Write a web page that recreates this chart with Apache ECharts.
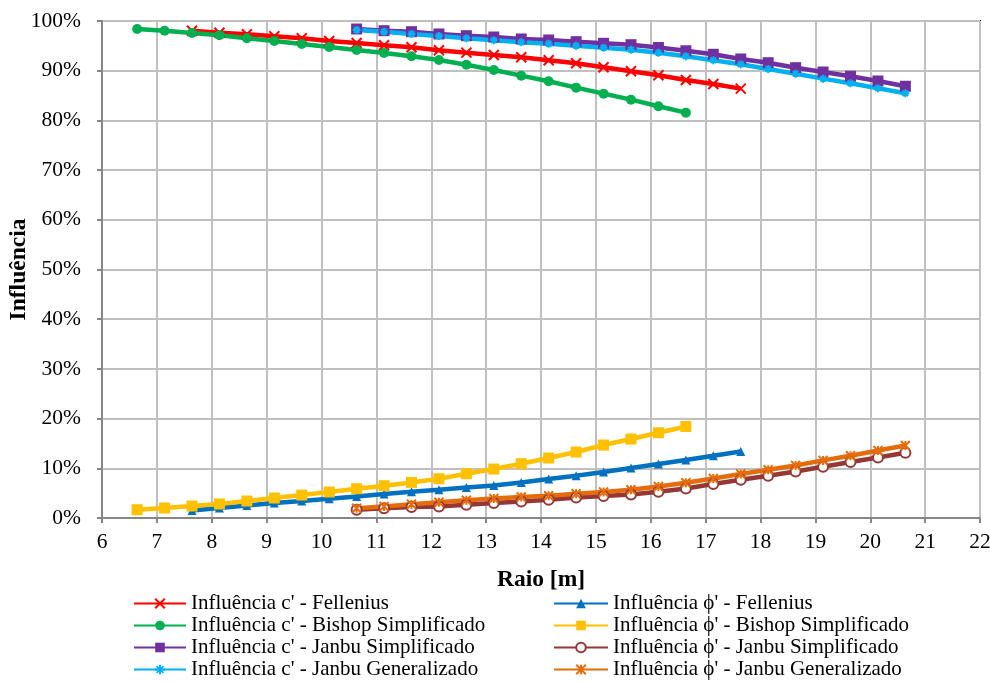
<!DOCTYPE html>
<html>
<head>
<meta charset="utf-8">
<script src="https://cdn.jsdelivr.net/npm/echarts@6/dist/echarts.min.js"></script>
<style>
  html, body { margin: 0; padding: 0; background: #fff; }
  #chart { width: 990px; height: 682px; }
</style>
</head>
<body>
<div id="chart"></div>
<script>
// raio [m] de cada familia de pontos
var raioA = [6.64, 7.14, 7.64, 8.14, 8.64, 9.14, 9.64, 10.14, 10.64, 11.14, 11.64, 12.14, 12.64, 13.14, 13.64, 14.14, 14.64, 15.14, 15.64, 16.14, 16.64];
var raioB = [7.64, 8.14, 8.64, 9.14, 9.64, 10.14, 10.64, 11.14, 11.64, 12.14, 12.64, 13.14, 13.64, 14.14, 14.64, 15.14, 15.64, 16.14, 16.64, 17.14, 17.64];
var raioC = [10.64, 11.14, 11.64, 12.14, 12.64, 13.14, 13.64, 14.14, 14.64, 15.14, 15.64, 16.14, 16.64, 17.14, 17.64, 18.14, 18.64, 19.14, 19.64, 20.14, 20.64];

// influencia [%]
var cFellenius = [98.05, 97.65, 97.33, 96.92, 96.52, 95.98, 95.58, 95.11, 94.71, 94.11, 93.63, 93.16, 92.70, 92.10, 91.49, 90.69, 89.88, 89.08, 88.14, 87.33, 86.39];
var phiFellenius = [1.53, 2.01, 2.53, 3.02, 3.42, 3.88, 4.34, 4.83, 5.29, 5.69, 6.15, 6.55, 7.16, 7.84, 8.51, 9.25, 10.05, 10.88, 11.66, 12.53, 13.39];
var cBishop = [98.39, 98.05, 97.59, 97.12, 96.52, 95.98, 95.38, 94.77, 94.17, 93.56, 92.90, 92.16, 91.21, 90.15, 89.00, 87.87, 86.59, 85.38, 84.17, 82.85, 81.56];
var phiBishop = [1.67, 2.01, 2.41, 2.82, 3.42, 4.02, 4.62, 5.23, 5.89, 6.50, 7.16, 7.90, 8.91, 9.85, 10.92, 12.07, 13.27, 14.68, 15.89, 17.15, 18.42];
var cJanbuS = [98.39, 98.05, 97.85, 97.39, 97.04, 96.78, 96.38, 96.18, 95.84, 95.51, 95.23, 94.67, 94.01, 93.30, 92.36, 91.61, 90.61, 89.74, 88.88, 87.93, 86.87];
var phiJanbuS = [1.67, 1.97, 2.21, 2.33, 2.67, 3.02, 3.34, 3.68, 4.14, 4.42, 4.75, 5.29, 5.95, 6.84, 7.70, 8.51, 9.37, 10.32, 11.26, 12.19, 13.13];
var cJanbuG = [98.19, 97.85, 97.39, 96.98, 96.52, 96.12, 95.72, 95.44, 95.03, 94.63, 94.23, 93.63, 92.90, 92.12, 91.29, 90.35, 89.40, 88.40, 87.47, 86.46, 85.46];
var phiJanbuG = [1.97, 2.33, 2.77, 3.18, 3.58, 3.92, 4.22, 4.48, 4.89, 5.23, 5.69, 6.35, 7.10, 7.96, 8.85, 9.71, 10.58, 11.59, 12.53, 13.59, 14.60];

var FONT = "'Liberation Serif', 'Times New Roman', serif";
var X_MARK = "path://M0,0L10,10M10,0L0,10";
var STAR_MARK = "path://M0,0L10,10M10,0L0,10M5,0L5,10";
var PLUS_STAR = "path://M5,0L5,10M0,5L10,5M1.5,1.5L8.5,8.5M8.5,1.5L1.5,8.5";

function pares(xs, ys) {
  return xs.map(function (x, i) { return [x, ys[i]]; });
}

function serie(nome, xs, ys, cor, simbolo, tam, extra) {
  var s = {
    name: nome,
    type: "line",
    data: pares(xs, ys),
    symbol: simbolo,
    symbolSize: tam,
    showAllSymbol: true,
    lineStyle: { color: cor, width: 4.5 },
    itemStyle: { color: cor, borderColor: cor, borderWidth: 0 },
    emphasis: { disabled: true },
    animation: false
  };
  if (extra) s.itemStyle = Object.assign(s.itemStyle, extra);
  return s;
}

var legendaBase = {
  orient: "vertical", top: 593, padding: 0,
  itemHeight: 12, itemGap: 1,
  textStyle: { fontFamily: FONT, fontSize: 21, color: "#000" }
};

var chart = echarts.init(document.getElementById("chart"));
chart.setOption({
  backgroundColor: "#fff",
  textStyle: { fontFamily: FONT },
  grid: {
    left: 102, right: 10, top: 21, bottom: 164,
    outerBoundsMode: "none", containLabel: false,
    show: true, borderColor: "#000", borderWidth: 2
  },
  legend: [
    Object.assign({}, legendaBase, {
      left: 133, itemWidth: 52,
      data: ["Influência c' - Fellenius", "Influência c' - Bishop Simplificado",
             "Influência c' - Janbu Simplificado", "Influência c' - Janbu Generalizado"]
    }),
    Object.assign({}, legendaBase, {
      left: 553, itemWidth: 54,
      data: ["Influência ϕ' - Fellenius", "Influência ϕ' - Bishop Simplificado",
             "Influência ϕ' - Janbu Simplificado", "Influência ϕ' - Janbu Generalizado"]
    })
  ],
  xAxis: {
    type: "value", min: 6, max: 22, interval: 1,
    name: "Raio [m]", nameLocation: "middle", nameGap: 50, nameMoveOverlap: false,
    nameTextStyle: { fontFamily: FONT, fontSize: 23.5, fontWeight: "bold", color: "#000" },
    axisLine: { onZero: false, lineStyle: { color: "#868686", width: 2 } },
    axisTick: { show: true, length: 5, lineStyle: { color: "#868686", width: 2 } },
    axisLabel: { fontFamily: FONT, fontSize: 21.5, color: "#000", margin: 13 },
    splitLine: { lineStyle: { color: "#c0c0c0", width: 2 } }
  },
  yAxis: {
    type: "value", min: 0, max: 100, interval: 10,
    name: "Influência", nameLocation: "middle", nameGap: 71, nameMoveOverlap: false,
    nameTextStyle: { fontFamily: FONT, fontSize: 23.5, fontWeight: "bold", color: "#000" },
    axisLine: { show: true, lineStyle: { color: "#868686", width: 2 } },
    axisTick: { show: true, length: 5, lineStyle: { color: "#868686", width: 2 } },
    axisLabel: { fontFamily: FONT, fontSize: 21.5, color: "#000", margin: 21, formatter: "{value}%" },
    splitLine: { lineStyle: { color: "#c0c0c0", width: 2 } }
  },
  series: [
    serie("Influência c' - Fellenius", raioB, cFellenius, "#ff0000", X_MARK, 10, { borderWidth: 2 }),
    serie("Influência ϕ' - Fellenius", raioB, phiFellenius, "#0070c0", "triangle", 9),
    serie("Influência c' - Bishop Simplificado", raioA, cBishop, "#00b050", "circle", 10),
    serie("Influência ϕ' - Bishop Simplificado", raioA, phiBishop, "#ffc000", "rect", 11),
    serie("Influência c' - Janbu Simplificado", raioC, cJanbuS, "#7030a0", "rect", 11),
    serie("Influência ϕ' - Janbu Simplificado", raioC, phiJanbuS, "#953735", "emptyCircle", 10, { borderWidth: 2 }),
    serie("Influência c' - Janbu Generalizado", raioC, cJanbuG, "#00b0f0", PLUS_STAR, 8, { borderWidth: 2 }),
    serie("Influência ϕ' - Janbu Generalizado", raioC, phiJanbuG, "#e46c0a", STAR_MARK, 9, { borderWidth: 2 })
  ]
});
</script>
</body>
</html>
